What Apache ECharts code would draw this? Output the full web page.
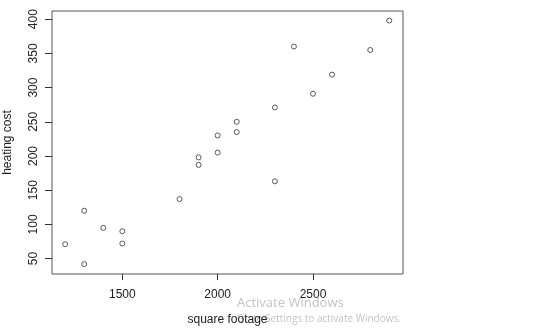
<!DOCTYPE html>
<html>
<head>
<meta charset="utf-8">
<script src="https://cdn.jsdelivr.net/npm/echarts@6/dist/echarts.min.js"></script>
<style>
  html, body { margin: 0; padding: 0; background: #fff; }
  #chart { width: 560px; height: 330px; }
</style>
</head>
<body>
<div id="chart"></div>
<script>
// square footage vs heating cost
const squareFootage = [1200, 1300, 1300, 1400, 1500, 1500, 1800, 1900, 1900, 2000, 2000, 2100, 2100, 2300, 2300, 2400, 2500, 2600, 2800, 2900]
const heatingCost = [71, 42, 120, 95, 90, 72, 137, 187, 198, 205, 230, 235, 250, 271, 163, 360, 291, 319, 355, 398]
const xTicks = [1500, 2000, 2500]
const yTicks = [50, 100, 150, 200, 250, 300, 350, 400]

const points = squareFootage.map((x, i) => [x, heatingCost[i]])

const chart = echarts.init(document.getElementById('chart'))
const option = {
    animation: false,
    textStyle: { fontFamily: 'Liberation Sans' },
    grid: {
        left: 52,
        top: 11,
        right: 157,
        bottom: 56,
        outerBoundsMode: 'none',
        show: true,
        borderColor: '#555',
        borderWidth: 1,
        backgroundColor: 'transparent'
    },
    xAxis: {
        type: 'value',
        min: 1131,
        max: 2972,
        name: 'square footage',
        nameLocation: 'middle',
        nameGap: 40,
        nameTextStyle: { fontSize: 12, color: '#222' },
        axisLine: { show: false },
        splitLine: { show: false },
        axisTick: { show: true, length: 6, customValues: xTicks, lineStyle: { color: '#333' } },
        axisLabel: { customValues: xTicks, fontSize: 12, color: '#222', margin: 15, formatter: v => String(v) }
    },
    yAxis: {
        type: 'value',
        min: 27.5,
        max: 412,
        name: 'heating cost',
        nameLocation: 'middle',
        nameGap: 38,
        nameTextStyle: { fontSize: 12, color: '#222' },
        axisLine: { show: false },
        splitLine: { show: false },
        axisTick: { show: true, length: 7, customValues: yTicks, lineStyle: { color: '#333' } },
        axisLabel: { customValues: yTicks, fontSize: 12, color: '#222', rotate: 90, margin: 12, formatter: v => String(v) }
    },
    series: [
        {
            type: 'scatter',
            data: points,
            symbol: 'circle',
            symbolSize: 5,
            itemStyle: { color: '#fff', borderColor: '#333', borderWidth: 1 }
        }
    ],
    graphic: [
        {
            type: 'text', left: 237, top: 297, z: -1,
            style: { text: 'Activate Windows', fontFamily: 'Open Sans', fontSize: 13, fill: '#c4c4c4' }
        },
        {
            type: 'text', left: 237, top: 314, z: -1,
            style: { text: 'Go to Settings to activate Windows.', fontFamily: 'Open Sans', fontSize: 10, fill: '#c4c4c4' }
        }
    ]
}
chart.setOption(option)
</script>
</body>
</html>
